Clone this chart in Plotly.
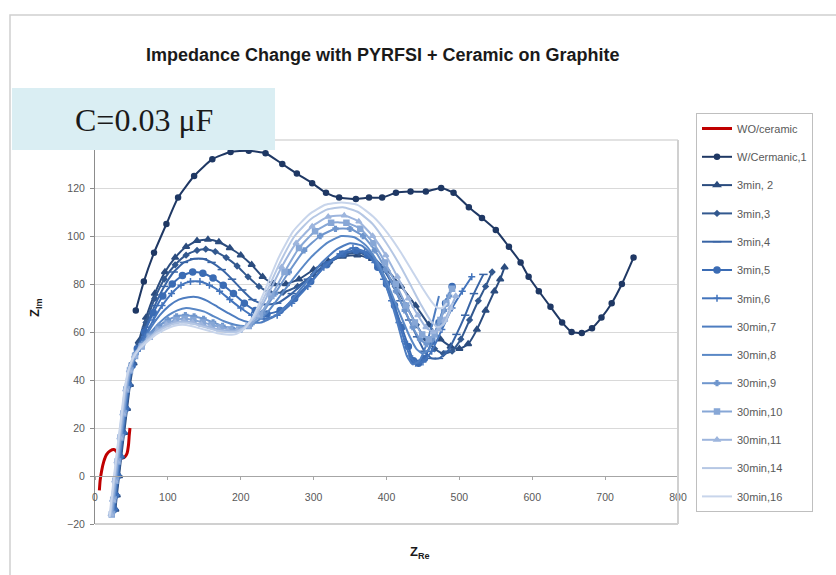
import plotly.graph_objects as go

# ---------------- data ----------------
names = ["WO/ceramic", "W/Cermanic,1", "3min, 2", "3min,3", "3min,4", "3min,5", "3min,6",
         "30min,7", "30min,8", "30min,9", "30min,10", "30min,11", "30min,14", "30min,16"]

x_wo = [6, 7, 9, 12, 16, 21, 26, 30, 33, 37, 41, 44, 46, 47, 48]
y_wo = [-6, -2, 2, 6, 9, 10.5, 11, 10, 8.5, 7.5, 8, 9.5, 13, 17, 20]

x_w1 = [56, 67, 81, 98, 114, 136, 161, 186, 211, 234, 257, 277, 298, 317, 335, 358, 376, 394, 413, 433,
        454, 475, 492, 513, 531, 550, 568, 584, 595, 609, 625, 641, 654, 668, 682, 695, 709, 723, 739]
y_w1 = [69, 81, 93, 105, 116, 125, 132, 135, 135.5, 134.5, 130, 126, 122, 118, 116, 115.4, 116, 116, 118, 118.5,
        118.5, 120, 118, 112, 107.5, 102.5, 95.5, 89, 83, 77, 70.5, 64, 60, 59.6, 61.6, 66, 72, 80, 91]

x_3m2 = [28, 30, 33, 36, 40, 44, 48, 53, 60, 70, 82, 96, 110, 125, 140, 155, 170, 185, 200, 215,
         230, 245, 262, 280, 300, 320, 340, 360, 380, 400, 420, 440, 458, 474, 488, 500, 512, 524, 536, 548, 556, 562]
y_3m2 = [-14, -8, 0, 8, 18, 28, 38, 47, 56, 66, 76, 85, 91, 95.5, 98, 98.5, 97.5, 95, 92, 88,
         83, 80, 80, 82, 86, 89.5, 91.5, 92, 90.5, 86, 79, 71, 63, 57, 54, 53, 55, 61, 69, 77, 82, 87]

x_3m3 = [27, 29, 32, 35, 39, 43, 47, 52, 60, 70, 82, 95, 110, 125, 140, 152, 165, 180, 195, 210,
         225, 240, 258, 278, 300, 322, 344, 362, 380, 396, 412, 427, 441, 454, 466, 478, 490, 502, 514, 526, 536, 545]
y_3m3 = [-14, -8, 0, 8, 18, 28, 38, 47, 55, 64, 74, 82, 88, 92, 94, 94.5, 93.5, 91, 87.5, 83,
         79, 76.5, 76.5, 79, 84, 89, 92.5, 93, 91, 86, 79, 71, 63, 57, 53, 51, 52, 57, 65, 73, 79, 85]

x_3m4 = [27, 29, 32, 35, 39, 43, 47, 52, 60, 70, 82, 95, 108, 122, 136, 148, 160, 174, 188, 202,
         216, 232, 250, 270, 292, 315, 338, 358, 376, 392, 406, 419, 431, 442, 452, 462, 472, 484, 496, 508, 520, 533]
y_3m4 = [-14, -8, 0, 8, 18, 28, 38, 47, 54, 62, 71, 79, 85, 89, 90.5, 90.5, 89, 86, 82, 77.5,
         73.5, 71.5, 72, 76, 82, 88, 92.5, 94, 92.5, 88, 81, 73, 65, 58, 52, 49, 49, 52, 59, 67, 76, 84]

x_3m5 = [26, 28, 31, 34, 38, 42, 46, 51, 58, 68, 80, 93, 106, 120, 134, 148, 162, 176, 190, 205,
         220, 236, 254, 274, 296, 318, 340, 358, 374, 388, 400, 411, 421, 430, 437, 444, 452, 462, 472, 481, 490]
y_3m5 = [-14, -8, 0, 8, 18, 28, 38, 46, 53, 60, 68, 75, 80, 83.5, 85, 84.5, 82.5, 79.5, 76, 72,
         69, 67.5, 69, 74, 81, 88, 92.5, 94, 92, 87, 80, 71, 62, 54, 48, 47, 49, 56, 64, 72, 79]

x_3m6 = [26, 28, 31, 34, 38, 42, 46, 51, 58, 68, 80, 92, 105, 118, 131, 144, 157, 171, 185, 200,
         215, 232, 250, 270, 292, 314, 336, 354, 370, 384, 396, 407, 417, 425, 432, 440, 450, 462, 476, 490, 504, 517]
y_3m6 = [-14, -8, 0, 8, 18, 28, 38, 46, 52, 58, 65, 71, 76, 79.5, 81, 81, 79.5, 77, 73.5, 70,
         67, 65.5, 67, 72, 79, 87, 92.5, 95, 93.5, 89, 82, 73, 64, 56, 50, 47, 47.5, 52, 61, 70, 77, 83]

x_30m7 = [25, 27, 30, 33, 37, 41, 45, 50, 57, 66, 77, 89, 102, 115, 128, 141, 154, 168, 182, 197,
          212, 228, 246, 266, 288, 310, 332, 350, 366, 380, 392, 403, 413, 421, 428, 436, 445, 455, 464, 472]
y_30m7 = [-15, -9, -1, 7, 17, 27, 37, 45, 51, 56, 62, 67, 71, 73.5, 74.5, 74.5, 73, 70.5, 68, 65.5,
          64, 64, 66.5, 72, 80, 88.5, 94.5, 97, 96, 92, 85, 76, 66, 57, 50, 46.5, 48, 55, 65, 75]

x_30m8 = [25, 27, 30, 33, 37, 41, 45, 50, 57, 66, 77, 89, 101, 113, 125, 137, 150, 163, 177, 192,
          206, 220, 236, 254, 274, 296, 318, 338, 356, 372, 386, 399, 411, 422, 432, 441, 450, 459, 467, 475, 482]
y_30m8 = [-15, -9, -1, 7, 17, 27, 37, 45, 51, 55, 60, 64, 67, 69, 70, 69.5, 68.5, 66.5, 64.5, 63,
          62.5, 64, 68, 75, 83, 91, 97, 100, 99.5, 96, 90, 82, 73, 65, 58, 53, 51, 53, 60, 67, 74]

x_30m9 = [24, 26, 29, 32, 36, 40, 44, 49, 56, 65, 76, 88, 100, 112, 124, 136, 149, 162, 175, 188,
          201, 215, 230, 247, 266, 287, 309, 330, 350, 368, 384, 399, 413, 425, 436, 446, 455, 463, 471, 479, 486]
y_30m9 = [-15, -9, -1, 7, 17, 27, 37, 45, 51, 55, 59, 62.5, 65, 66.5, 67, 66.5, 65.5, 64, 62.5, 61.5,
          61.5, 63.5, 68, 76, 85, 94, 100, 103, 103, 100, 94, 86, 77, 69, 62, 57, 55, 57, 63, 69, 75]

x_30m10 = [23, 25, 28, 31, 35, 39, 43, 48, 55, 64, 75, 87, 99, 111, 123, 135, 148, 160, 172, 185,
           198, 211, 226, 242, 260, 280, 302, 324, 345, 364, 382, 398, 413, 427, 439, 449, 458, 466, 474, 482, 490]
y_30m10 = [-16, -10, -2, 6, 16, 26, 36, 44, 50, 54, 58, 61, 63.5, 65, 65.5, 65, 64, 63, 62, 61,
           61, 62.5, 67, 75, 85, 95, 102, 105.5, 105.5, 103, 97, 89, 80, 71, 64, 59, 57, 59, 65, 72, 78]

x_30m11 = [22, 24, 27, 30, 34, 38, 42, 47, 54, 63, 74, 86, 98, 110, 122, 134, 146, 158, 170, 182,
           195, 208, 222, 238, 256, 276, 298, 320, 342, 362, 381, 399, 415, 430, 443, 454, 464, 472, 480, 488, 495]
y_30m11 = [-16, -10, -2, 6, 16, 26, 36, 44, 50, 54, 57.5, 60.5, 63, 64, 64.5, 64, 63, 62, 61, 60.5,
           60.5, 62.5, 67, 76, 87, 97, 104, 108, 108.5, 106, 100, 92, 83, 74, 67, 62, 60, 61, 65, 70, 75]

x_30m14 = [21, 23, 26, 29, 33, 37, 41, 46, 53, 62, 73, 85, 97, 109, 121, 133, 145, 157, 169, 181,
           193, 206, 220, 236, 254, 274, 296, 318, 340, 361, 381, 400, 418, 434, 448, 460, 470, 478, 485, 491]
y_30m14 = [-16, -10, -2, 6, 16, 26, 36, 44, 50, 54, 57, 60, 62, 63.5, 64, 63.5, 62.5, 61.5, 60.5, 60,
           60, 62, 67, 77, 89, 100, 107, 111, 112, 110, 105, 97, 88, 79, 71, 65, 62, 63, 67, 72]

x_30m16 = [20, 22, 25, 28, 32, 36, 40, 45, 52, 61, 72, 84, 96, 108, 120, 132, 144, 156, 168, 180,
           192, 204, 218, 234, 252, 272, 294, 316, 338, 360, 382, 402, 420, 436, 450, 461, 470, 477, 483]
y_30m16 = [-17, -11, -3, 5, 15, 25, 35, 43, 49, 53, 56, 59, 61, 62.5, 63, 62.5, 61.5, 60.5, 59.5, 59,
           59, 61, 67, 78, 91, 102, 109, 113, 114, 113, 108, 101, 93, 85, 78, 73, 70, 70, 72]

x_ticks = [0, 100, 200, 300, 400, 500, 600, 700, 800]
y_ticks = [-20, 0, 20, 40, 60, 80, 100, 120]

title_text = "Impedance Change with PYRFSI + Ceramic on Graphite"
cap_text = "C=0.03 μF"

# ---------------- styles ----------------
xs = [x_wo, x_w1, x_3m2, x_3m3, x_3m4, x_3m5, x_3m6, x_30m7, x_30m8, x_30m9, x_30m10, x_30m11, x_30m14, x_30m16]
ys = [y_wo, y_w1, y_3m2, y_3m3, y_3m4, y_3m5, y_3m6, y_30m7, y_30m8, y_30m9, y_30m10, y_30m11, y_30m14, y_30m16]
colors = ["#C00000", "#1F3864", "#2B4C7E", "#33598F", "#3864A5", "#3B6CB4", "#4374BC",
          "#4E7DC0", "#5A88C6", "#6F96CD", "#87A7D6", "#9DB5DD", "#B5C7E4", "#C8D5EB"]
symbols = [None, "circle", "triangle-up", "diamond", "line-ew-open", "circle", "cross-thin-open",
           None, None, "cross", "square", "triangle-up", None, None]
msizes = [0, 5, 6, 4, 6, 6, 5, 0, 0, 4, 5, 5, 0, 0]
widths = [3, 2, 2, 2, 2, 2, 2, 2, 2, 2, 2, 2, 2, 2]

fig = go.Figure()
for i, nm in enumerate(names):
    mode = "lines+markers" if symbols[i] else "lines"
    tr = dict(x=xs[i], y=ys[i], name=nm, mode=mode, legendgroup=nm,
              line=dict(color=colors[i], width=widths[i], shape="spline", smoothing=0.5))
    if symbols[i]:
        tr["marker"] = dict(symbol=symbols[i], size=msizes[i], color=colors[i],
                            line=dict(color=colors[i], width=1.5))
    fig.add_trace(go.Scatter(**tr))

W, H = 836, 575
L, R, T, B = 95, 158, 140, 51

def px(xp):
    return (xp - L) / (W - L - R)

def py(yp):
    return (H - B - yp) / (H - T - B)

fig.update_layout(
    width=W, height=H,
    margin=dict(l=L, r=R, t=T, b=B),
    paper_bgcolor="white", plot_bgcolor="white",
    font=dict(family="Liberation Sans, Arial, sans-serif", color="#595959"),
    showlegend=True,
    legend=dict(x=px(696), y=py(113), xanchor="left", yanchor="top",
                bordercolor="#BFBFBF", borderwidth=1, bgcolor="white",
                font=dict(size=11, color="#595959"), maxheight=480,
                traceorder="grouped", tracegroupgap=9.3, itemwidth=30,
                entrywidth=100, entrywidthmode="pixels"),
    xaxis=dict(range=[0, 800], tickvals=x_ticks, showgrid=False, zeroline=False,
               anchor="free", position=0.125, showline=True, linecolor="#A6A6A6", linewidth=1,
               ticks="outside", ticklen=3, tickcolor="#A6A6A6", ticklabelstandoff=8,
               tickfont=dict(size=10.5, color="#595959")),
    yaxis=dict(range=[-20, 140], tickvals=y_ticks, showgrid=True, gridcolor="#D9D9D9", gridwidth=1.3,
               zeroline=False, showline=True, linecolor="#8C8C8C", linewidth=1,
               ticks="outside", ticklen=4, tickcolor="#8C8C8C", ticklabelstandoff=3,
               tickfont=dict(size=10.5, color="#595959")),
    shapes=[
        dict(type="rect", xref="paper", yref="paper", x0=px(10), x1=px(848), y0=py(590), y1=py(15),
             line=dict(color="#D0D0D0", width=1.5), fillcolor="rgba(0,0,0,0)", layer="below"),
        dict(type="line", xref="paper", yref="paper", x0=0, x1=1, y0=1, y1=1,
             line=dict(color="#D9D9D9", width=1.5), layer="above"),
        dict(type="line", xref="paper", yref="paper", x0=1, x1=1, y0=0, y1=1,
             line=dict(color="#D0D0D0", width=2), layer="above"),
        dict(type="line", xref="paper", yref="paper", x0=0, x1=1, y0=0, y1=0,
             line=dict(color="#D0D0D0", width=2), layer="above"),
        dict(type="rect", xref="paper", yref="paper", x0=px(12), x1=px(275), y0=py(150), y1=py(88),
             line=dict(width=0), fillcolor="#DAEEF3", layer="above"),
    ],
    annotations=[
        dict(text="<b>" + title_text + "</b>", xref="paper", yref="paper", x=px(383), y=py(55),
             xanchor="center", yanchor="middle",
             showarrow=False, font=dict(size=18, color="#1A1A1A", family="Liberation Sans, Arial")),
        dict(text=cap_text, xref="paper", yref="paper", x=px(144), y=py(120),
             xanchor="center", yanchor="middle",
             showarrow=False, font=dict(size=32, color="#1A1A1A", family="Liberation Serif, serif")),
        dict(text="<b>Z<sub>Re</sub></b>", xref="paper", yref="paper", x=px(420), y=py(552),
             xanchor="center", yanchor="middle",
             showarrow=False, font=dict(size=13, color="#1A1A1A")),
        dict(text="<b>Z<sub>Im</sub></b>", xref="paper", yref="paper", x=px(35), y=py(308),
             xanchor="center", yanchor="middle",
             showarrow=False, textangle=-90, font=dict(size=13, color="#1A1A1A")),
    ],
)

fig.write_html("out.html")
